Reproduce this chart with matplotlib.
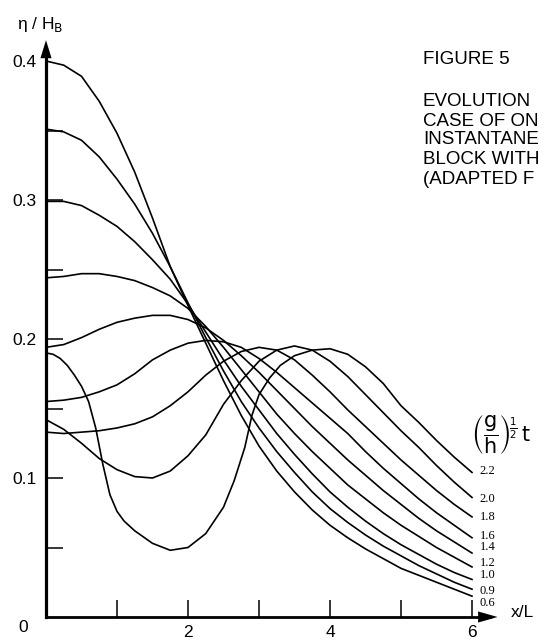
import matplotlib
matplotlib.use("Agg")
import matplotlib.pyplot as plt

# Surface elevation eta/H_B against x/L, one profile per (g/h)^1/2 t
t_labels = ["0.6", "0.9", "1.0", "1.2", "1.4", "1.6", "1.8", "2.0", "2.2"]

x_std = [0, 0.25, 0.5, 0.75, 1.0, 1.25, 1.5, 1.75, 2.0, 2.25, 2.5, 2.75, 3.0,
         3.25, 3.5, 3.75, 4.0, 4.25, 4.5, 4.75, 5.0, 5.25, 5.5, 5.75, 6.0]

eta_06 = [0.400, 0.397, 0.389, 0.371, 0.348, 0.320, 0.287, 0.252, 0.224, 0.197, 0.170, 0.145, 0.123,
          0.105, 0.090, 0.077, 0.066, 0.057, 0.049, 0.042, 0.035, 0.030, 0.025, 0.020, 0.015]
eta_09 = [0.351, 0.349, 0.343, 0.331, 0.315, 0.297, 0.276, 0.252, 0.226, 0.201, 0.177, 0.155, 0.136,
          0.119, 0.104, 0.090, 0.078, 0.068, 0.059, 0.051, 0.044, 0.037, 0.031, 0.025, 0.020]
eta_10 = [0.299, 0.299, 0.296, 0.289, 0.281, 0.270, 0.257, 0.243, 0.225, 0.205, 0.185, 0.166, 0.149,
          0.132, 0.117, 0.103, 0.090, 0.079, 0.069, 0.060, 0.052, 0.045, 0.038, 0.032, 0.027]
eta_12 = [0.244, 0.245, 0.247, 0.247, 0.245, 0.242, 0.237, 0.231, 0.222, 0.209, 0.194, 0.178, 0.162,
          0.146, 0.132, 0.119, 0.107, 0.095, 0.085, 0.075, 0.066, 0.058, 0.050, 0.043, 0.036]
eta_14 = [0.194, 0.196, 0.201, 0.207, 0.212, 0.215, 0.217, 0.217, 0.214, 0.208, 0.199, 0.188, 0.176,
          0.163, 0.150, 0.137, 0.125, 0.113, 0.102, 0.091, 0.081, 0.071, 0.062, 0.054, 0.046]
eta_16 = [0.155, 0.156, 0.158, 0.162, 0.167, 0.175, 0.185, 0.192, 0.197, 0.199, 0.198, 0.194, 0.186,
          0.176, 0.165, 0.154, 0.143, 0.132, 0.119, 0.107, 0.096, 0.085, 0.075, 0.066, 0.057]
eta_18 = [0.133, 0.132, 0.133, 0.134, 0.136, 0.139, 0.144, 0.152, 0.162, 0.174, 0.184, 0.191, 0.194,
          0.192, 0.185, 0.174, 0.162, 0.149, 0.137, 0.125, 0.113, 0.102, 0.091, 0.081, 0.072]
eta_20 = [0.142, 0.135, 0.125, 0.114, 0.106, 0.101, 0.100, 0.105, 0.116, 0.131, 0.153, 0.170, 0.184,
          0.192, 0.195, 0.192, 0.184, 0.173, 0.160, 0.147, 0.134, 0.122, 0.109, 0.097, 0.086]

x_22 = [0, 0.1, 0.2, 0.3, 0.4, 0.5, 0.6, 0.7, 0.8, 0.9, 1.0, 1.1, 1.25, 1.5, 1.75, 2.0, 2.25,
        2.5, 2.65, 2.8, 2.9, 3.0, 3.15, 3.3, 3.5, 3.75, 4.0, 4.25, 4.5, 4.75, 5.0, 5.25, 5.5,
        5.75, 6.0]
eta_22 = [0.190, 0.189, 0.186, 0.181, 0.174, 0.166, 0.155, 0.136, 0.110, 0.088, 0.076, 0.069,
          0.062, 0.053, 0.048, 0.050, 0.060, 0.079, 0.098, 0.122, 0.145, 0.160, 0.172, 0.181,
          0.188, 0.192, 0.193, 0.189, 0.180, 0.168, 0.152, 0.140, 0.127, 0.115, 0.104]

curves = [
    (x_std, eta_06), (x_std, eta_09), (x_std, eta_10), (x_std, eta_12),
    (x_std, eta_14), (x_std, eta_16), (x_std, eta_18), (x_std, eta_20),
    (x_22, eta_22),
]

# label heights beside the curve ends
label_y = [0.010, 0.019, 0.030, 0.039, 0.050, 0.058, 0.072, 0.085, 0.105]

fig = plt.figure(figsize=(5.44, 6.42), dpi=100)
ax = fig.add_axes([0, 0, 1, 1])
ax.set_xlim(-46 / 71, 498 / 71)
ax.set_ylim(-25 / 1390, 617 / 1390)

for xs, ys in curves:
    ax.plot(xs, ys, color="black", lw=1.2, solid_joinstyle="round")

# axes through the origin with arrow heads
for side in ["top", "right"]:
    ax.spines[side].set_visible(False)
ax.spines["left"].set_position(("data", 0))
ax.spines["bottom"].set_position(("data", 0))
ax.spines["left"].set_bounds(0, 0.405)
ax.spines["bottom"].set_bounds(0, 6.25)
ax.spines["left"].set_linewidth(2.3)
ax.spines["bottom"].set_linewidth(2.0)
ax.annotate("", xy=(0, 0.415), xytext=(0, 0.40),
            arrowprops=dict(facecolor="black", edgecolor="black", width=0.1,
                            headwidth=8, headlength=13, lw=0))
ax.annotate("", xy=(6.36, 0), xytext=(6.2, 0),
            arrowprops=dict(facecolor="black", edgecolor="black", width=0.1,
                            headwidth=8, headlength=14, lw=0))

ax.set_yticks([0.05, 0.1, 0.15, 0.2, 0.25, 0.3, 0.35, 0.4])
ax.set_yticklabels(["", "0.1", "", "0.2", "", "0.3", "", "0.4"])
ax.set_xticks([1, 2, 3, 4, 5, 6])
ax.set_xticklabels(["", "2", "", "4", "", "6"])
ax.tick_params(axis="y", direction="in", length=12.5, width=1.1, pad=7, labelsize=12.5)
ax.tick_params(axis="x", direction="in", length=12, width=1.1, pad=6, labelsize=12.5)
ax.yaxis.get_major_ticks()[-1].tick1line.set_visible(False)
for lab in ax.get_xticklabels() + ax.get_yticklabels():
    lab.set_family("Liberation Sans")

ax.text(-0.32, -0.0075, "0", ha="center", va="center", fontsize=12.5, family="Liberation Sans")
ax.text(-0.41, 0.4265, r"η / H$_\mathrm{B}$", ha="left", va="center", fontsize=12.5,
        family="Liberation Sans")
ax.text(6.54, 0.003, "x/L", ha="left", va="center", fontsize=12.5, family="Liberation Sans")
ax.text(5.98, 0.131, r"$\left(\dfrac{\mathrm{g}}{\mathrm{h}}\right)^{\!\frac{1}{2}}\,\mathrm{t}$",
        ha="left", va="center", fontsize=15)

for lab, yl in zip(t_labels, label_y):
    ax.text(6.11, yl, lab, ha="left", va="center", fontsize=9, family="Liberation Serif")

caption = ["EVOLUTION", "CASE OF ON", "INSTANTANE", "BLOCK WITH", "(ADAPTED F"]
caption_y = [102, 121, 140, 160, 180]
fig.text(423 / 544, 1 - 60 / 642, "FIGURE 5", ha="left", va="center", fontsize=13.5,
         family="Liberation Sans")
for line, yp in zip(caption, caption_y):
    fig.text(423 / 544, 1 - yp / 642, line, ha="left", va="center", fontsize=13.5,
             family="Liberation Sans")

fig.savefig("out.png", dpi=100)
